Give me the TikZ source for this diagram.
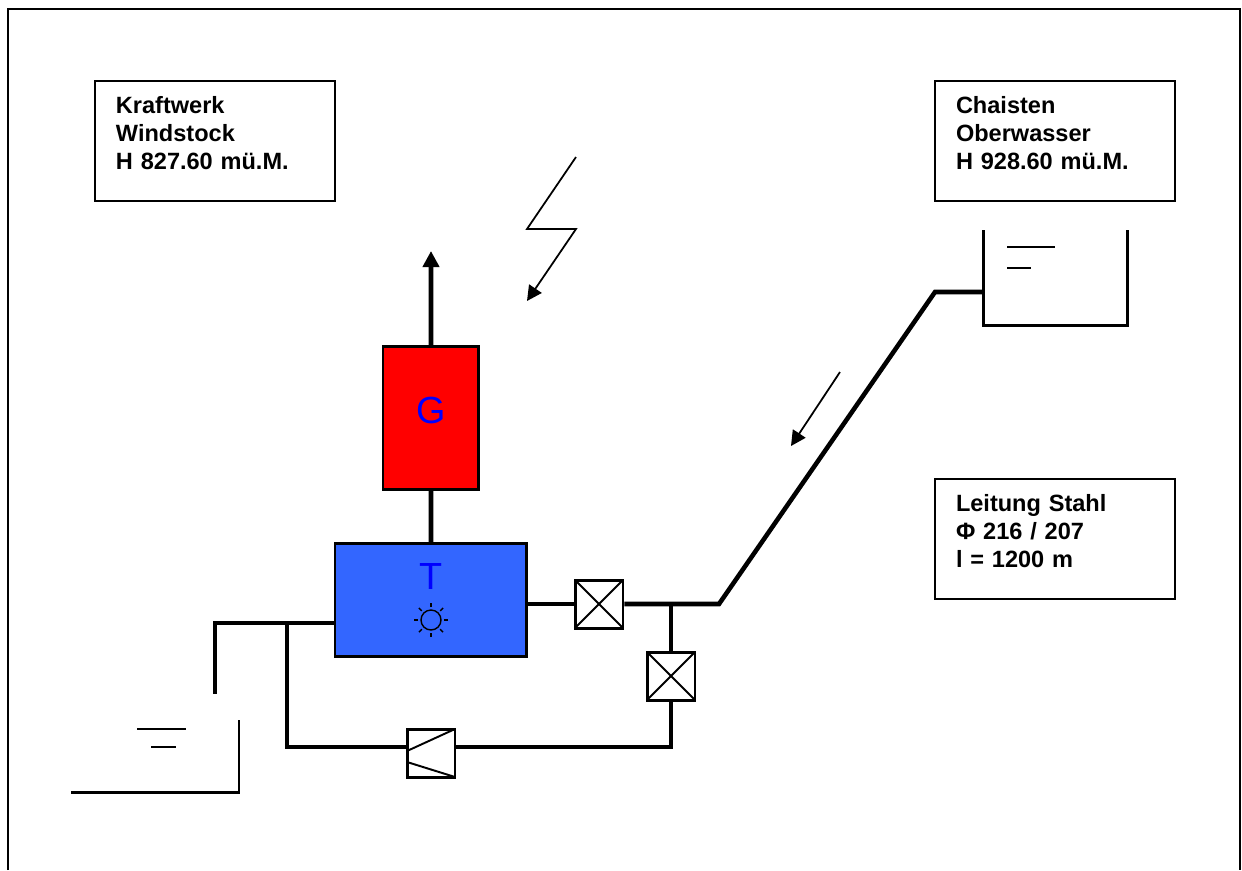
\documentclass[tikz,border=0pt]{standalone}
\usepackage{fontspec}
\setmainfont{Liberation Sans}
\usetikzlibrary{positioning,arrows.meta}
\definecolor{genred}{RGB}{255,0,0}
\definecolor{turbblue}{RGB}{51,102,255}
\tikzset{
  infobox/.style={draw,line width=1pt,anchor=north west,minimum width=4.8cm,minimum height=2.4cm,outer sep=0pt,
    inner xsep=0.42cm,inner ysep=0pt,text width=3.96cm,align=left,
    font=\bfseries\fontsize{13.4}{15.9}\selectfont,
    execute at end node={\\[-0.24cm]\mbox{}}},
  machine/.style={draw,line width=1.7pt,anchor=north west,inner sep=0pt,outer sep=0pt},
  machinetext/.style={text=blue,inner sep=0pt,font=\fontsize{21.5}{24}\selectfont},
  pipe/.style={line width=2.6pt},
  basin/.style={line width=1.7pt},
  level/.style={line width=0.9pt},
  thinarrow/.style={line width=1pt,-{Triangle[length=0.3cm,width=0.3cm]}},
  valve/.style={draw,fill=white,line width=1.7pt,minimum size=0.96cm,inner sep=0pt,
    path picture={
      \draw[line width=1.1pt] (path picture bounding box.north west) -- (path picture bounding box.south east);
      \draw[line width=1.1pt] (path picture bounding box.south west) -- (path picture bounding box.north east);
    }},
  checkvalve/.style={draw,fill=white,line width=1.7pt,minimum size=0.96cm,inner sep=0pt,
    path picture={
      \draw[line width=1.1pt] (path picture bounding box.north east) -- ([yshift=-0.44cm]path picture bounding box.north west);
      \draw[line width=1.1pt] (path picture bounding box.south east) -- ([yshift=0.3cm]path picture bounding box.south west);
    }},
}
\begin{document}
\begin{tikzpicture}[x=0.02cm,y=-0.02cm]
  \useasboundingbox (0,0) rectangle (1242,870);

  % frame, open at the bottom
  \coordinate (f0) at (8,870);
  \coordinate (f1) at (8,9);
  \coordinate (f2) at (1240,9);
  \coordinate (f3) at (1240,870);
  \draw[line width=1.1pt] (f0) -- (f1) -- (f2) -- (f3);

  \node[infobox] (kraftwerk) at (95,81) {Kraftwerk\\Windstock\\H 827.60 mü.M.};
  \node[infobox] (chaisten) at (935,81) {Chaisten\\Oberwasser\\H 928.60 mü.M.};
  \node[infobox] (leitung) at (935,479) {Leitung Stahl\\Φ 216 / 207\\l = 1200 m};

  \node[machine,fill=genred,minimum width=1.92cm,minimum height=2.88cm] (G) at (383,346) {};
  \node[machine,fill=turbblue,minimum width=3.84cm,minimum height=2.28cm] (T) at (335,543) {};
  \node[machinetext] (Glabel) at (431,410) {G};
  \node[machinetext] (Tlabel) at (431,576) {T};

  % sun on the turbine
  \node[draw,circle,line width=0.8pt,minimum size=0.4cm,inner sep=0pt] (sun) at (431,620) {};
  \foreach \a in {0,45,...,315}
    \draw[line width=0.8pt] (sun.center) ++(\a:13) -- ++(\a:4);

  \node[valve] (v1) at (599,604) {};
  \node[valve] (v2) at (671,676) {};
  \node[checkvalve] (cv) at (431,753) {};

  \coordinate (up) at (431,251);
  \coordinate (elbow) at (719,604);
  \coordinate (branch) at (671,604);
  \coordinate (top) at (935,292);
  \coordinate (inlet) at (983,292);
  \coordinate (low) at (671,747);
  \coordinate (ret) at (287,747);
  \coordinate (retup) at (287,623);
  \coordinate (tleft) at (335,623);
  \coordinate (drain0) at (215,623);
  \coordinate (drain1) at (215,694);
  \coordinate (tright) at (527,604);

  \draw[pipe,-{Triangle[length=0.32cm,width=0.32cm]}] (G) -- (up);
  \draw[pipe] (G) -- (T);
  \draw[pipe] (tright) -- (v1);
  \draw[pipe] (v1) -- (elbow) -- (top) -- (inlet);
  \draw[pipe] (branch) -- (v2);
  \draw[pipe] (v2) -- (low) -- (cv.east |- low);
  \draw[pipe] (cv.west |- low) -- (ret) -- (retup);
  \draw[pipe] (tleft) -- (drain0) -- (drain1);

  % upper basin
  \coordinate (ub0) at (983,230);
  \coordinate (ub1) at (983,325);
  \coordinate (ub2) at (1127,325);
  \coordinate (ub3) at (1127,230);
  \draw[basin] (ub0) -- (ub1) -- (ub2) -- (ub3);
  \coordinate (ul0) at (1007,247);
  \coordinate (ul1) at (1055,247);
  \coordinate (ul2) at (1007,268);
  \coordinate (ul3) at (1031,268);
  \draw[level] (ul0) -- (ul1);
  \draw[level] (ul2) -- (ul3);

  % lower basin
  \coordinate (lb0) at (71,792);
  \coordinate (lb1) at (239,792);
  \coordinate (lb2) at (239,720);
  \draw[basin] (lb0) -- (lb1) -- (lb2);
  \coordinate (ll0) at (137,729);
  \coordinate (ll1) at (186,729);
  \coordinate (ll2) at (151,747);
  \coordinate (ll3) at (176,747);
  \draw[level] (ll0) -- (ll1);
  \draw[level] (ll2) -- (ll3);

  % lightning and flow direction
  \coordinate (z0) at (576,157);
  \coordinate (z1) at (527,229);
  \coordinate (z2) at (576,229);
  \coordinate (z3) at (527,301);
  \draw[thinarrow] (z0) -- (z1) -- (z2) -- (z3);
  \coordinate (fl0) at (840,372);
  \coordinate (fl1) at (791,446);
  \draw[thinarrow] (fl0) -- (fl1);
\end{tikzpicture}
\end{document}
